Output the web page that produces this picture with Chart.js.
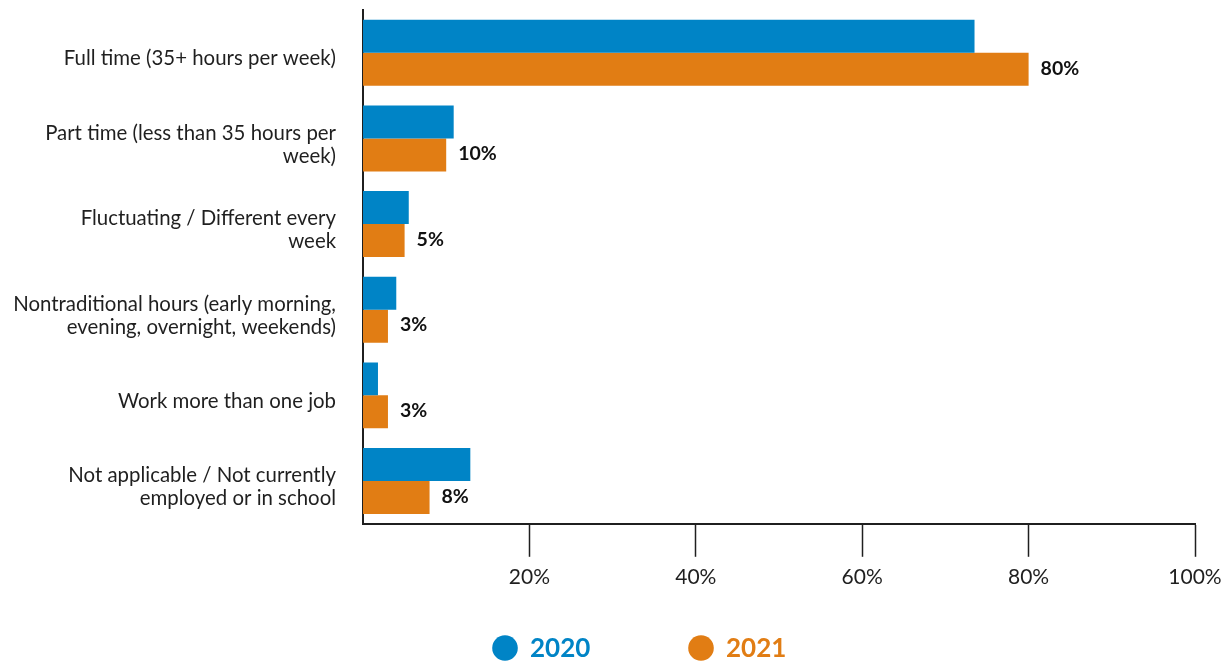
<!DOCTYPE html>
<html>
<head>
<meta charset="utf-8">
<title>Work hours 2020 vs 2021</title>
<script src="https://cdn.jsdelivr.net/npm/chart.js"></script>
<style>
  body { margin: 0; background: #fff; }
  #wrap { width: 1225px; height: 663px; }
</style>
</head>
<body>
<div id="wrap"><canvas id="hoursChart" width="1225" height="663"></canvas></div>
<script>
const categories = [
  "Full time (35+ hours per week)",
  ["Part time (less than 35 hours per", "week)"],
  ["Fluctuating / Different every", "week"],
  ["Nontraditional hours (early morning,", "evening, overnight, weekends)"],
  "Work more than one job",
  ["Not applicable / Not currently", "employed or in school"],
];
const values2020 = [73.5, 10.9, 5.5, 4.0, 1.8, 12.9];
const values2021 = [80, 10, 5, 3, 3, 8];
const xTicks = [20, 40, 60, 80, 100];
const seriesNames = ["2020", "2021"];

const BLUE = "#0084c6";
const ORANGE = "#e17d14";
const INK = "#1f1f1f";
const FONT = "Lato, 'Open Sans', sans-serif";

// percentage labels at the end of the 2021 bars
const valueLabels = {
  id: "valueLabels",
  afterDatasetsDraw(chart) {
    const ctx = chart.ctx;
    const meta = chart.getDatasetMeta(1);
    ctx.save();
    ctx.font = "bold 19.5px " + FONT;
    ctx.fillStyle = "#111";
    ctx.textAlign = "left";
    ctx.textBaseline = "middle";
    meta.data.forEach((bar, i) => {
      ctx.fillText(values2021[i] + "%", bar.x + 12, bar.y - 1);
    });
    ctx.restore();
  },
};

// round dots + coloured year names under the axis
const dotLegend = {
  id: "dotLegend",
  afterDraw(chart) {
    const ctx = chart.ctx;
    const y = chart.height - 15;
    const items = [
      { x: 505, color: BLUE, text: seriesNames[0] },
      { x: 701, color: ORANGE, text: seriesNames[1] },
    ];
    ctx.save();
    ctx.font = "bold 26px " + FONT;
    ctx.textBaseline = "middle";
    ctx.textAlign = "left";
    items.forEach((it) => {
      ctx.fillStyle = it.color;
      ctx.beginPath();
      ctx.arc(it.x, y, 12.8, 0, Math.PI * 2);
      ctx.fill();
      ctx.fillText(it.text, it.x + 25, y + 1);
    });
    ctx.restore();
  },
};

new Chart(document.getElementById("hoursChart"), {
  type: "bar",
  data: {
    labels: categories,
    datasets: [
      {
        label: seriesNames[0],
        data: values2020,
        backgroundColor: BLUE,
        borderWidth: 0,
        categoryPercentage: 0.77,
        barPercentage: 1,
      },
      {
        label: seriesNames[1],
        data: values2021,
        backgroundColor: ORANGE,
        borderWidth: 0,
        categoryPercentage: 0.77,
        barPercentage: 1,
      },
    ],
  },
  options: {
    indexAxis: "y",
    responsive: false,
    animation: false,
    layout: { padding: { left: 0, right: 30, top: 10, bottom: 65 } },
    plugins: {
      legend: { display: false },
      tooltip: { enabled: false },
    },
    scales: {
      x: {
        min: 0,
        max: 100,
        afterBuildTicks: (scale) => {
          scale.ticks = xTicks.map((v) => ({ value: v }));
        },
        afterFit: (scale) => {
          scale.paddingLeft = 0;
          scale.paddingRight = 0;
        },
        ticks: {
          callback: (v) => v + "%",
          color: INK,
          font: { family: FONT, size: 21 },
          padding: 8,
          maxRotation: 0,
        },
        grid: {
          drawOnChartArea: false,
          drawTicks: true,
          tickLength: 33,
          tickColor: INK,
          tickWidth: 1.5,
        },
        border: { color: INK, width: 2 },
      },
      y: {
        afterFit: (scale) => {
          scale.width = 363;
          scale.paddingTop = 0;
          scale.paddingBottom = 0;
        },
        ticks: {
          color: INK,
          font: { family: FONT, size: 20.4, lineHeight: 1.13 },
          padding: 27,
          labelOffset: 6,
        },
        grid: { display: false, drawTicks: false },
        border: { color: INK, width: 2 },
      },
    },
  },
  plugins: [valueLabels, dotLegend],
});
</script>
</body>
</html>
